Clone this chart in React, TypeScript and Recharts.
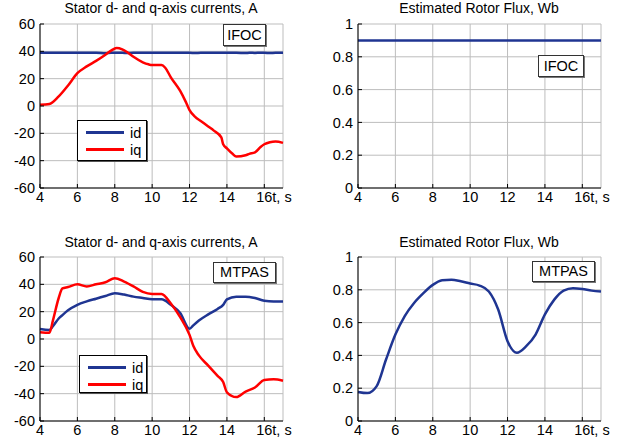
import { LineChart, Line, XAxis, YAxis, CartesianGrid, Legend } from "recharts";

// time axis ticks
const timeTicks = [4, 6, 8, 10, 12, 14, 16];
const currentTicks = [-60, -40, -20, 0, 20, 40, 60];
const fluxTicks = [0, 0.2, 0.4, 0.6, 0.8, 1];

// IFOC currents
const ifocTime = [4, 4.5, 5, 5.5, 6, 6.5, 7, 7.5, 7.8, 8.1, 8.4, 8.7, 9, 9.5, 9.8, 10, 10.5, 10.7, 11, 11.5, 11.8, 12, 12.3, 12.6, 13, 13.3, 13.7, 13.8, 14, 14.3, 14.5, 15, 15.2, 15.5, 15.8, 16, 16.3, 16.6, 17];
const ifocId = [39, 39, 39, 39, 39, 39, 39, 38.6, 39, 39, 39, 38.7, 39, 39, 39, 39, 39, 39, 39, 39, 39, 39, 38.7, 39, 39, 39, 39, 39, 39, 39, 39, 38.7, 39, 38.8, 39, 39, 38.7, 39, 39];
const ifocIq = [1, 1.5, 7, 15, 24, 29, 33, 37.5, 40.5, 42.5, 41.5, 39, 36, 32, 30.5, 30, 30, 28, 21, 11, 3, -3, -8, -11, -15, -18, -23, -28, -31, -35, -37, -36, -35, -34, -30, -28, -26.5, -26, -27];

// IFOC flux
const ifocFluxTime = [4, 17];
const ifocFlux = [0.9, 0.9];

// MTPAS currents
const mtpasTime = [4, 4.5, 4.7, 5, 5.2, 5.5, 6, 6.5, 7, 7.5, 8, 8.5, 9, 9.5, 10, 10.5, 11, 11.5, 12, 12.2, 12.5, 13, 13.5, 13.8, 14, 14.5, 15, 15.5, 16, 16.5, 17];
const mtpasId = [7.3, 6.5, 9.5, 15, 17.5, 21, 25, 27.5, 29.5, 31.5, 33.5, 32.5, 31, 30, 29, 29, 25, 19, 7.5, 10, 13.5, 18, 22, 25, 29, 31, 31, 30, 28, 27.5, 27.5];
const mtpasIq = [5, 4.5, 14, 30, 37, 38, 40, 38.5, 40, 41.5, 44.5, 42, 38.5, 34.5, 33, 33, 26, 16, 3, -5, -12, -19.5, -27, -31.5, -39, -42.5, -38.5, -35.5, -30, -29.5, -30.5];

// MTPAS flux
const mtpasFluxTime = [4, 4.5, 5, 5.5, 6, 6.5, 7, 7.5, 8, 8.5, 9, 9.5, 10, 10.5, 11, 11.5, 12, 12.5, 13, 13.5, 14, 14.5, 15, 15.5, 16, 16.5, 17];
const mtpasFlux = [0.177, 0.17, 0.213, 0.375, 0.527, 0.64, 0.72, 0.78, 0.83, 0.858, 0.862, 0.852, 0.838, 0.826, 0.79, 0.68, 0.487, 0.416, 0.456, 0.527, 0.65, 0.74, 0.795, 0.81, 0.805, 0.795, 0.79];

const BLUE = "#1f3592";
const RED = "#ff0000";
const FONT = "'Liberation Sans', Arial, sans-serif";

const currentsIfoc = ifocTime.map((t, i) => ({ t, id: ifocId[i], iq: ifocIq[i] }));
const fluxIfoc = ifocFluxTime.map((t, i) => ({ t, flux: ifocFlux[i] }));
const currentsMtpas = mtpasTime.map((t, i) => ({ t, id: mtpasId[i], iq: mtpasIq[i] }));
const fluxMtpas = mtpasFluxTime.map((t, i) => ({ t, flux: mtpasFlux[i] }));

const tickStyle = { fontSize: 14.5, fill: "#000", fontFamily: FONT };

const TimeTick = (props: any) => {
  const { x, y, payload } = props;
  return (
    <g>
      <text x={x} y={y} dy="0.71em" textAnchor="middle" style={tickStyle}>
        {payload.value}
      </text>
      {payload.value === 16 && (
        <text x={x + 8} y={y} dy="0.71em" textAnchor="start" style={tickStyle}>
          t, s
        </text>
      )}
    </g>
  );
};

const LegendBox = (props: any) => {
  const { payload } = props;
  return (
    <div
      style={{
        border: "1px solid #000",
        background: "#fff",
        boxSizing: "border-box",
        width: "100%",
        height: "100%",
        paddingTop: 3,
        boxShadow: "1px 1px 0 #555",
      }}
    >
      {(payload || []).map((p: any) => (
        <div key={p.value} style={{ display: "flex", alignItems: "center", height: 17, fontFamily: FONT, fontSize: 14.5 }}>
          <div style={{ width: 38, height: 3, background: p.color, marginLeft: 8, marginRight: 6 }} />
          <span>{p.value}</span>
        </div>
      ))}
    </div>
  );
};

const TagBox = ({ text, left, top, width, height }: any) => (
  <div
    style={{
      position: "absolute",
      left,
      top,
      width,
      height,
      boxSizing: "border-box",
      border: "1px solid #333",
      background: "#fff",
      fontFamily: FONT,
      fontSize: 14.5,
      lineHeight: `${height - 2}px`,
      textAlign: "center",
      boxShadow: "1px 1px 0 #777",
    }}
  >
    {text}
  </div>
);

const Title = ({ text, center, top }: any) => (
  <div
    style={{
      position: "absolute",
      left: center - 150,
      width: 300,
      top,
      textAlign: "center",
      fontFamily: FONT,
      fontSize: 14,
      whiteSpace: "nowrap",
    }}
  >
    {text}
  </div>
);

const Frame = ({ yTicks, yDomain, yWidth }: any) => [
  <CartesianGrid key="g" stroke="#bdbdbd" ticks={timeTicks} horizontalPoints={undefined} />,
  <XAxis
    key="xb"
    dataKey="t"
    type="number"
    domain={[4, 17]}
    ticks={timeTicks}
    height={20}
    tickSize={-4}
    tickMargin={8}
    axisLine={{ stroke: "#000" }}
    tickLine={{ stroke: "#000" }}
    tick={<TimeTick />}
    interval={0}
  />,
  <XAxis
    key="xt"
    xAxisId="top"
    orientation="top"
    type="number"
    domain={[4, 17]}
    ticks={timeTicks}
    height={0}
    tickSize={-4}
    axisLine={{ stroke: "#000" }}
    tickLine={{ stroke: "#000" }}
    tick={false}
  />,
  <YAxis
    key="yl"
    type="number"
    domain={yDomain}
    ticks={yTicks}
    width={yWidth}
    tickSize={-4}
    tickMargin={9}
    axisLine={{ stroke: "#000" }}
    tickLine={{ stroke: "#000" }}
    tick={tickStyle}
    interval={0}
  />,
  <YAxis
    key="yr"
    yAxisId="right"
    orientation="right"
    type="number"
    domain={yDomain}
    ticks={yTicks}
    width={0}
    tickSize={-4}
    axisLine={{ stroke: "#000" }}
    tickLine={{ stroke: "#000" }}
    tick={false}
  />,
];

export default function App() {
  return (
    <div style={{ position: "absolute", left: 0, top: 0, width: 618, height: 441, background: "#fff", overflow: "hidden" }}>
      {/* top left: IFOC currents */}
      <div style={{ position: "absolute", left: 0, top: 0 }}>
        <LineChart width={300} height={220} data={currentsIfoc} margin={{ top: 24, right: 17, bottom: 12, left: 0 }}>
          {Frame({ yTicks: currentTicks, yDomain: [-60, 60], yWidth: 40 })}
          <Line type="monotone" dataKey="id" name="id" stroke={BLUE} strokeWidth={2.5} dot={false} isAnimationActive={false} />
          <Line type="monotone" dataKey="iq" name="iq" stroke={RED} strokeWidth={2.5} dot={false} isAnimationActive={false} />
          <Legend
            layout="vertical"
            align="center"
            verticalAlign="middle"
            content={<LegendBox />}
            wrapperStyle={{ left: 77, top: 120, width: 70, height: 41 }}
          />
        </LineChart>
      </div>
      <Title text="Stator d- and q-axis currents, A" center={161} top={0} />
      <TagBox text="IFOC" left={223} top={24} width={43} height={22} />

      {/* top right: IFOC flux */}
      <div style={{ position: "absolute", left: 308, top: 0 }}>
        <LineChart width={310} height={220} data={fluxIfoc} margin={{ top: 24, right: 17, bottom: 12, left: 0 }}>
          {Frame({ yTicks: fluxTicks, yDomain: [0, 1], yWidth: 50 })}
          <Line type="linear" dataKey="flux" stroke={BLUE} strokeWidth={2.5} dot={false} isAnimationActive={false} />
        </LineChart>
      </div>
      <Title text="Estimated Rotor Flux, Wb" center={479} top={0} />
      <TagBox text="IFOC" left={538} top={55} width={46} height={22} />

      {/* bottom left: MTPAS currents */}
      <div style={{ position: "absolute", left: 0, top: 220 }}>
        <LineChart width={300} height={221} data={currentsMtpas} margin={{ top: 37, right: 17, bottom: 0, left: 0 }}>
          {Frame({ yTicks: currentTicks, yDomain: [-60, 60], yWidth: 40 })}
          <Line type="monotone" dataKey="id" name="id" stroke={BLUE} strokeWidth={2.5} dot={false} isAnimationActive={false} />
          <Line type="monotone" dataKey="iq" name="iq" stroke={RED} strokeWidth={2.5} dot={false} isAnimationActive={false} />
          <Legend
            layout="vertical"
            align="center"
            verticalAlign="middle"
            content={<LegendBox />}
            wrapperStyle={{ left: 79, top: 135, width: 68, height: 38 }}
          />
        </LineChart>
      </div>
      <Title text="Stator d- and q-axis currents, A" center={161} top={234} />
      <TagBox text="MTPAS" left={213} top={262} width={63} height={21} />

      {/* bottom right: MTPAS flux */}
      <div style={{ position: "absolute", left: 308, top: 220 }}>
        <LineChart width={310} height={221} data={fluxMtpas} margin={{ top: 37, right: 17, bottom: 0, left: 0 }}>
          {Frame({ yTicks: fluxTicks, yDomain: [0, 1], yWidth: 50 })}
          <Line type="monotone" dataKey="flux" stroke={BLUE} strokeWidth={2.5} dot={false} isAnimationActive={false} />
        </LineChart>
      </div>
      <Title text="Estimated Rotor Flux, Wb" center={479} top={234} />
      <TagBox text="MTPAS" left={532} top={261} width={63} height={21} />
    </div>
  );
}
